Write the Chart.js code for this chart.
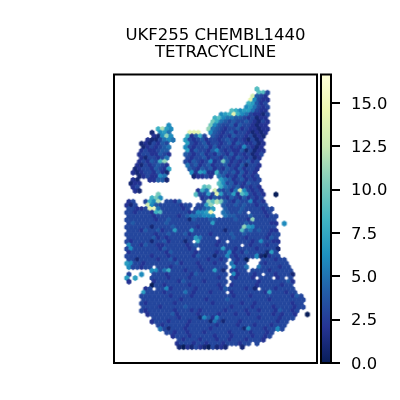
<!DOCTYPE html>
<html>
<head>
<meta charset="utf-8">
<script src="https://cdn.jsdelivr.net/npm/chart.js@4"></script>
<style>
  body { margin: 0; background: #fff; }
  canvas { position: absolute; left: 0; top: 0; }
</style>
</head>
<body>
<canvas id="map" width="400" height="400"></canvas>
<canvas id="bar" width="400" height="400"></canvas>
<script>
var titleLines = ['UKF255 CHEMBL1440', 'TETRACYCLINE'];
var colorbarTicks = [0, 2.5, 5, 7.5, 10, 12.5, 15];
var colorbarMax = 16.65;
var colormap = ['#081d58', '#253494', '#225ea8', '#1d91c0', '#41b6c4', '#7fcdbb', '#c7e9b4', '#edf8b1', '#ffffd9'];

// one line per hexbin row, top to bottom: start column, cells, start column, cells...
// a cell is one base 36 character (a = 10 ... g = 16)
var hexRows = [
  [32, '9'],
  [32, '993'],
  [31, 'd432'],
  [30, 'e6322'],
  [30, '87423'],
  [29, '675323'],
  [26, '986775322'],
  [23, '678e86532213'],
  [22, '8965544323122'],
  [21, 'a8543433432132'],
  [11, '6', 21, 'a6433424332122'],
  [8, '8c76', 20, 'b54323342322122'],
  [7, '1', 9, '675', 16, 'eee', 21, '64323423321212'],
  [7, '216b6', 15, '82483', 21, '4323243323121'],
  [6, '2113565', 15, '732342', 21, '3323432321312'],
  [4, '1213243', 15, '7323423323424322312'],
  [5, '1232345', 15, '6323342423323263212'],
  [4, '2322344', 15, '7243324632322413122'],
  [4, '23322432', 15, '4323423243242323123'],
  [4, '2133235', 15, '323342332432432312'],
  [4, '232438b', 15, '324323623a42323423'],
  [3, '21323432', 15, '534234233423241332'],
  [3, '123324327', 16, '43243423243242332'],
  [2, '212332421', 16, '6276228343424232'],
  [4, '1232265', 17, '12232', 23, '5423242323'],
  [2, '21', 6, '22441', 23, '7542342323'],
  [2, '122', 23, '9634232433'],
  [2, '23', 19, '9a', 23, '8543423232'],
  [3, '21', 18, '285', 22, 'd43425d63232'],
  [8, 'a', 17, '93373e73472973232', 36, '0'],
  [7, '8a6', 19, '232433243242323'],
  [1, '23', 5, '386c', 10, '3324', 19, '3b9ca4324336232'],
  [1, '213', 6, 'd6433333233', 18, '337b', 24, '43343433233'],
  [1, '33223ef53333323', 17, '33457', 24, '433343333233'],
  [1, '33233328933333323667f', 24, '543343', 31, '33323'],
  [1, '333333233333234555666', 24, '5443334333233'],
  [1, '333333323343333143334433334332b33333'],
  [1, '343333333433333333337333333343333322', 38, '6'],
  [1, '3333331333343333323333333333b7633333'],
  [1, '333243342337333733333331333945343322'],
  [1, '3333333233433342333323333433433333233'],
  [1, '333333423233333375333', 23, '33343323333243'],
  [1, '3233331334233313', 18, '8333323', 26, '333332363322'],
  [1, '633243322333332343333233333', 29, '32333233'],
  [1, '36333333243333323', 19, '3333373323333233331'],
  [1, '233333333243333323333233623243333173'],
  [1, '3333332333233333243331336323333610233'],
  [1, '331333323342333333323323', 26, '3230', 33, '333233'],
  [1, '763323333333423332333233', 26, '5233', 33, '3233333'],
  [1, '633233', 8, '33323333332333333', 26, '6335', 32, '53333233'],
  [7, '663583332333233731', 26, '3233', 31, '3333233333'],
  [1, '3', 4, '6', 7, '333233333243333333', 26, '6233323', 34, '3323331'],
  [1, '7', 3, '7', 7, '333323333233333323', 26, '323332', 33, '333', 37, '23', 40, '3'],
  [1, '2', 7, '233333243333233333', 26, '333333233333342'],
  [7, '033233333233333323', 26, '233333233333233'],
  [5, '23', 8, '336233333233333243333231', 33, '33323333'],
  [5, '73333233335323332333', 26, '2333333327333233'],
  [4, '333333323333233333333323332333333333243'],
  [5, '333333333233333233334333333333233333333'],
  [4, '323333332333333332333333233233333333233'],
  [5, '333323333343333333333233332333323333233'],
  [4, '32333333233323233333233332332333243323'],
  [6, '233333423333233332333233233333232332', 44, '0'],
  [7, '3333332333316426333333333233332333'],
  [7, '233323333233331531333233333333233'],
  [8, '3233333233333323333233323332333'],
  [9, '531333233333233333331633323363'],
  [10, '33233233323333323333233323'],
  [12, '233323333323332333323323'],
  [13, '323332333233233323332'],
  [13, '233323323332333233', 32, '3'],
  [13, '102132103121', 28, '1']
];

function hexToRgb(h) {
  return [parseInt(h.substr(1, 2), 16), parseInt(h.substr(3, 2), 16), parseInt(h.substr(5, 2), 16)];
}

function valueColor(v) {
  var t = Math.min(v / colorbarMax, 1) * (colormap.length - 1);
  var i = Math.min(Math.floor(t), colormap.length - 2);
  var a = hexToRgb(colormap[i]), b = hexToRgb(colormap[i + 1]), f = t - i;
  return 'rgb(' + a.map(function (c, k) { return Math.round(c + (b[k] - c) * f); }).join(',') + ')';
}

// Chart.js has no hexagon point style, so one small canvas per value
var sprites = {};
function hexSprite(v) {
  if (sprites[v]) return sprites[v];
  var c = document.createElement('canvas');
  c.width = 8;
  c.height = 8;
  var g = c.getContext('2d');
  g.fillStyle = valueColor(v);
  g.beginPath();
  g.moveTo(4, 1);
  g.lineTo(6.5, 2.5);
  g.lineTo(6.5, 5.5);
  g.lineTo(4, 7);
  g.lineTo(1.5, 5.5);
  g.lineTo(1.5, 2.5);
  g.closePath();
  g.fill();
  sprites[v] = c;
  return c;
}

var points = [];
hexRows.forEach(function (row, r) {
  for (var s = 0; s < row.length; s += 2) {
    for (var k = 0; k < row[s + 1].length; k++) {
      points.push({ x: row[s] + k + (r % 2 ? 0.5 : 0), y: r, v: parseInt(row[s + 1][k], 36) });
    }
  }
});

var framePlugin = {
  id: 'frame',
  afterDatasetsDraw: function (chart) {
    var a = chart.chartArea, c = chart.ctx;
    c.save();
    c.strokeStyle = '#000';
    c.lineWidth = 2;
    c.strokeRect(a.left, a.top, a.right - a.left, a.bottom - a.top);
    c.restore();
  }
};

new Chart(document.getElementById('map'), {
  type: 'scatter',
  data: {
    datasets: [{
      data: points,
      pointRadius: 3,
      pointHoverRadius: 3,
      pointStyle: function (ctx) { return ctx.raw ? hexSprite(ctx.raw.v) : 'circle'; }
    }]
  },
  options: {
    responsive: false,
    animation: false,
    devicePixelRatio: 1,
    layout: { padding: { left: 114, right: 83, top: 0, bottom: 37 } },
    plugins: {
      legend: { display: false },
      tooltip: { enabled: false },
      title: {
        display: true,
        text: titleLines,
        color: '#000',
        font: { family: 'DejaVu Sans', size: 16.5, weight: 'normal', lineHeight: 1.03 },
        padding: { top: 27, bottom: 13.5 }
      }
    },
    scales: {
      x: { display: false, min: -2.05, max: 46.29 },
      y: { display: false, reverse: true, min: -4.01, max: 75.38 }
    }
  },
  plugins: [framePlugin]
});

new Chart(document.getElementById('bar'), {
  type: 'bar',
  data: {
    labels: [''],
    datasets: [{
      data: [[0, colorbarMax]],
      barPercentage: 1,
      categoryPercentage: 1,
      backgroundColor: function (ctx) {
        var a = ctx.chart.chartArea;
        if (!a) return colormap[0];
        var grad = ctx.chart.ctx.createLinearGradient(0, a.bottom, 0, a.top);
        colormap.forEach(function (c, i) { grad.addColorStop(i / (colormap.length - 1), c); });
        return grad;
      }
    }]
  },
  options: {
    responsive: false,
    animation: false,
    devicePixelRatio: 1,
    layout: { padding: { left: 321, right: 0, top: 74.5, bottom: 37 } },
    plugins: { legend: { display: false }, tooltip: { enabled: false } },
    scales: {
      x: { display: false },
      y: {
        position: 'right',
        min: 0,
        max: colorbarMax,
        afterFit: function (scale) { scale.width = 69; },
        afterBuildTicks: function (scale) {
          scale.ticks = colorbarTicks.map(function (v) { return { value: v }; });
        },
        border: { display: false },
        grid: { drawOnChartArea: false, drawTicks: true, tickLength: 9, color: '#000', lineWidth: 2 },
        ticks: {
          color: '#000',
          padding: 11,
          labelOffset: 1.5,
          font: { family: 'DejaVu Sans', size: 16.4 },
          callback: function (v) { return v.toFixed(1); }
        }
      }
    }
  },
  plugins: [framePlugin]
});
</script>
</body>
</html>
